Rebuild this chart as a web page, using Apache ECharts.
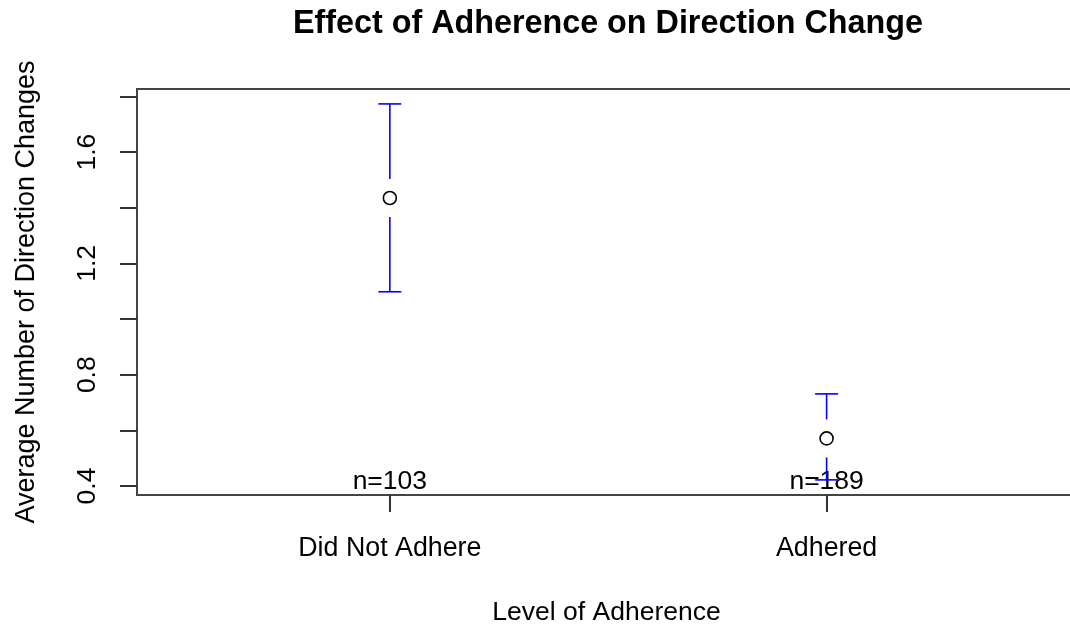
<!DOCTYPE html>
<html>
<head>
<meta charset="utf-8">
<title>Effect of Adherence on Direction Change</title>
<script src="https://cdn.jsdelivr.net/npm/echarts@6/dist/echarts.min.js"></script>
<style>
  html, body { margin: 0; padding: 0; background: #fff; }
  #chart { width: 1070px; height: 625px; }
</style>
</head>
<body>
<div id="chart"></div>
<script>
// Group means with confidence limits (plotmeans-style)
const categories = ['Did Not Adhere', 'Adhered'];
const means = [1.435, 0.571];
const upperCI = [1.773, 0.731];
const lowerCI = [1.098, 0.422];
const counts = [103, 189];

// Y axis ticks (every 0.2) and the labels printed on it
const yTicks = [0.4, 0.6, 0.8, 1.0, 1.2, 1.4, 1.6, 1.8];
const yTickLabels = [0.4, 0.8, 1.2, 1.6];

const FONT = "'Liberation Sans', Arial, Helvetica, sans-serif";
const Y_MIN = 0.3677, Y_MAX = 1.8266;
const X_MIN = 0.4211, X_MAX = 2.571;

const xPos = categories.map((_, i) => i + 1);
const barData = xPos.map((x, i) => [x, lowerCI[i], upperCI[i], means[i]]);
const meanData = xPos.map((x, i) => [x, means[i]]);
const countData = xPos.map((x, i) => [x, Y_MIN, counts[i]]);

const chart = echarts.init(document.getElementById('chart'), null, { renderer: 'canvas' });

chart.setOption({
  animation: false,
  backgroundColor: '#ffffff',
  textStyle: { fontFamily: FONT },
  title: {
    text: 'Effect of Adherence on Direction Change',
    left: 603,
    top: 3,
    textAlign: 'center',
    textStyle: { fontFamily: FONT, fontSize: 32.3, fontWeight: 'bold', color: '#000' }
  },
  grid: {
    left: 137, top: 89, width: 939, bottom: 130,
    outerBoundsMode: 'none',
    containLabel: false,
    show: true, borderColor: '#444', borderWidth: 2, backgroundColor: 'transparent'
  },
  xAxis: {
    type: 'value',
    min: X_MIN, max: X_MAX,
    name: 'Level of Adherence',
    nameLocation: 'middle',
    nameGap: 104,
    nameTextStyle: { fontFamily: FONT, fontSize: 26.5, color: '#000', verticalAlign: 'top' },
    axisLine: { show: false },
    splitLine: { show: false },
    axisTick: { show: true, length: 17, inside: false, customValues: xPos,
      lineStyle: { color: '#333', width: 2 } },
    axisLabel: {
      show: true, customValues: xPos, margin: 40,
      fontFamily: FONT, fontSize: 26.8, color: '#000',
      formatter: v => categories[Math.round(v) - 1] || ''
    }
  },
  yAxis: {
    type: 'value',
    min: Y_MIN, max: Y_MAX,
    name: 'Average Number of Direction Changes',
    nameLocation: 'middle',
    nameGap: 97,
    nameTextStyle: { fontFamily: FONT, fontSize: 27, color: '#000' },
    axisLine: { show: false },
    splitLine: { show: false },
    axisTick: { show: true, length: 17, inside: false, customValues: yTicks,
      lineStyle: { color: '#333', width: 2 } },
    axisLabel: {
      show: true, customValues: yTickLabels, rotate: 90, margin: 36,
      fontFamily: FONT, fontSize: 26.5, color: '#000',
      formatter: v => v.toFixed(1)
    }
  },
  series: [
    {
      // sample sizes printed along the bottom of the plot
      type: 'scatter',
      data: countData,
      symbolSize: 0,
      z: 2,
      silent: true,
      label: {
        show: true, position: 'top', distance: 0,
        fontFamily: FONT, fontSize: 26.5, color: '#000',
        textBorderWidth: 0, opacity: 1,
        formatter: p => 'n=' + p.data[2]
      }
    },
    {
      // confidence interval bars with a gap around the mean marker
      type: 'custom',
      data: barData,
      z: 3,
      silent: true,
      renderItem: (params, api) => {
        const x = api.value(0);
        const lo = api.coord([x, api.value(1)]);
        const hi = api.coord([x, api.value(2)]);
        const mid = api.coord([x, api.value(3)]);
        const gap = 19, cap = 11.5;
        const style = { stroke: '#0000ff', lineWidth: 1.6, fill: null };
        const line = (x1, y1, x2, y2) => ({ type: 'line', shape: { x1, y1, x2, y2 }, style });
        return {
          type: 'group',
          children: [
            line(hi[0], hi[1], hi[0], mid[1] - gap),
            line(lo[0], mid[1] + gap, lo[0], lo[1]),
            line(hi[0] - cap, hi[1], hi[0] + cap, hi[1]),
            line(lo[0] - cap, lo[1], lo[0] + cap, lo[1])
          ]
        };
      }
    },
    {
      // group means
      type: 'scatter',
      data: meanData,
      symbol: 'circle',
      symbolSize: 13,
      z: 4,
      silent: true,
      itemStyle: { color: '#ffffff', borderColor: '#000', borderWidth: 1.6, opacity: 1 }
    }
  ]
});
</script>
</body>
</html>
